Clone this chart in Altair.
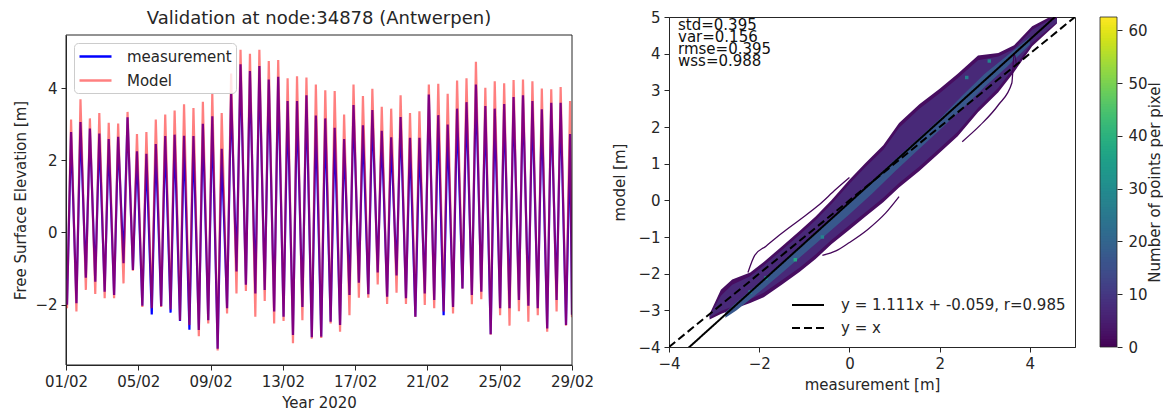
import altair as alt
import pandas as pd

# ---------------- left panel: tidal extremes ----------------
FIRST_TROUGH_DAY = 0.056
FIRST_PEAK_DAY = 0.28
TIDE_PERIOD_DAYS = 0.521

meas_high = [2.78, 3.06, 2.88, 2.74, 2.59, 2.65, 3.19, 2.25, 2.18, 2.45, 2.67, 2.71, 2.68, 2.67,
             3.01, 3.22, 2.32, 3.85, 4.66, 4.47, 4.61, 4.24, 4.31, 3.64, 3.64, 3.80, 3.24, 3.16,
             2.90, 2.59, 3.53, 2.97, 3.39, 2.82, 2.64, 3.20, 2.62, 2.62, 3.82, 3.25, 2.99, 3.43,
             3.61, 4.10, 3.50, 3.43, 3.56, 3.75, 3.80, 3.64, 3.41, 3.59, 3.59, 2.73]
model_high = [3.13, 3.69, 3.16, 3.31, 3.04, 3.02, 3.34, 2.73, 2.78, 3.13, 3.27, 3.38, 3.55, 3.45,
              3.62, 3.87, 3.31, 4.40, 5.06, 4.95, 5.06, 4.75, 4.78, 4.27, 4.33, 4.29, 4.10, 3.94,
              3.92, 3.27, 4.10, 3.78, 3.98, 3.48, 3.43, 3.80, 3.31, 3.36, 4.10, 4.12, 3.84, 4.21,
              4.27, 4.73, 4.01, 4.19, 4.13, 4.22, 4.24, 4.19, 3.99, 3.97, 4.03, 3.64]
meas_low = [-2.00, -1.96, -1.25, -1.36, -1.64, -1.73, -0.85, -1.04, -2.03, -2.27, -2.04, -2.22,
            -2.45, -2.69, -2.70, -2.43, -3.22, -2.10, -1.08, -1.45, -1.69, -1.59, -2.19, -2.33,
            -2.84, -2.06, -2.90, -2.89, -2.47, -2.56, -1.73, -1.39, -1.71, -1.11, -1.78, -1.19,
            -1.82, -2.33, -1.69, -1.87, -2.29, -2.06, -1.55, -1.73, -1.64, -2.82, -2.10, -2.10,
            -1.87, -2.03, -2.10, -2.66, -1.87, -2.56]
model_low = [-2.10, -2.19, -1.59, -1.70, -1.82, -1.82, -1.41, -1.06, -2.06, -2.10, -2.06, -2.13,
             -2.44, -2.56, -2.87, -2.52, -3.27, -2.24, -1.69, -1.62, -2.33, -1.90, -2.52, -2.45,
             -3.07, -2.43, -2.94, -2.92, -2.52, -2.75, -2.29, -1.81, -1.81, -1.44, -1.98, -1.67,
             -1.98, -2.34, -2.01, -2.10, -2.19, -2.24, -1.56, -1.99, -1.85, -2.83, -2.29, -2.58,
             -2.18, -2.47, -2.29, -2.75, -2.19, -2.58]
start_end_day = [0.0, 28.0]
meas_start_end = [-1.28, -2.28]
model_start_end = [-1.32, -2.35]

series_names = ["measurement", "Model"]
tick_days = [0, 4, 8, 12, 16, 20, 24, 28]
left_yticks = [-2, 0, 2, 4]
left_title = "Validation at node:34878 (Antwerpen)"

# ---------------- right panel: density band ----------------
band_x = [-3.1, -2.85, -2.6, -2.2, -1.9, -1.5, -1.1, -0.75, -0.4, 0.0, 0.35, 0.75, 1.1, 1.55,
          2.0, 2.4, 2.85, 3.3, 3.65, 4.05, 4.4, 4.6]
outer_hi = [-3.1, -2.44, -2.16, -1.97, -1.68, -1.26, -0.83, -0.44, 0.0, 0.56, 1.01, 1.5, 2.11,
            2.62, 3.04, 3.45, 3.95, 4.02, 4.23, 4.75, 4.97, 5.0]
outer_lo = [-3.25, -3.1, -2.98, -2.8, -2.64, -2.3, -1.95, -1.6, -1.2, -0.8, -0.45, -0.05, 0.35,
            0.8, 1.3, 1.75, 2.4, 2.95, 3.5, 4.2, 4.6, 4.82]
mid_hi = [-3.15, -2.6, -2.3, -2.07, -1.78, -1.36, -0.93, -0.54, -0.1, 0.45, 0.9, 1.38, 1.98,
          2.5, 2.92, 3.33, 3.82, 3.92, 4.13, 4.65, 4.9, 4.95]
mid_lo = [-3.2, -3.02, -2.9, -2.7, -2.52, -2.18, -1.83, -1.48, -1.08, -0.68, -0.33, 0.07, 0.47,
          0.92, 1.42, 1.87, 2.52, 3.07, 3.62, 4.3, 4.66, 4.86]
core_x = [-2.75, -2.5, -2.0, -1.5, -1.0, -0.5, 0.0, 0.5, 1.0, 1.5, 2.0, 2.5, 3.0, 3.5, 4.0]
core_hi = [-3.05, -2.78, -2.25, -1.7, -1.15, -0.6, -0.05, 0.52, 1.1, 1.65, 2.22, 2.85, 3.45, 3.95, 4.45]
core_lo = [-3.2, -3.0, -2.5, -1.98, -1.45, -0.92, -0.38, 0.18, 0.78, 1.35, 1.92, 2.5, 3.1, 3.65, 4.25]
outer_count, mid_count, core_count = 2, 7, 17

loop_a_x = [-2.25, -2.1, -1.85, -1.5, -1.1, -0.7, -0.3, 0.0]
loop_a_y = [-1.97, -1.5, -1.25, -0.9, -0.53, -0.15, 0.3, 0.62]
loop_b_x = [2.5, 2.9, 3.3, 3.6, 3.7, 3.65]
loop_b_y = [1.6, 2.05, 2.6, 3.2, 3.7, 4.0]
loop_c_x = [-0.6, -0.3, 0.0, 0.4, 0.8, 1.1]
loop_c_y = [-1.5, -1.38, -1.15, -0.8, -0.35, 0.1]
loop_count = 1

speck_x = [-1.2, -1.85, -2.2, -0.6, 2.6, 3.1]
speck_y = [-1.62, -2.12, -2.5, -1.0, 3.35, 3.8]
speck_count = [38, 36, 30, 28, 26, 28]

fit_slope, fit_intercept, fit_r = 1.111, -0.059, 0.985
line_x_ends = [-4, 5]
fit_label = "y = 1.111x + -0.059, r=0.985"
ident_label = "y = x"

stats_names = ["std", "var", "rmse", "wss"]
stats_values = ["0.395", "0.156", "0.395", "0.988"]

cbar_max = 62.5
cbar_step = 0.5
cbar_ticks = [0, 10, 20, 30, 40, 50, 60]
cbar_title = "Number of points per pixel"

FONT = "DejaVu Sans"
INK = "#262626"
LINE_SYMBOL = "M-2,0H2"

# ---------------- build tables ----------------
def tide_table(low, high, ends, name):
    rows = [(start_end_day[0], ends[0])]
    for k in range(len(low)):
        rows.append((FIRST_TROUGH_DAY + TIDE_PERIOD_DAYS * k, low[k]))
        if k < len(high):
            rows.append((FIRST_PEAK_DAY + TIDE_PERIOD_DAYS * k, high[k]))
    rows.append((start_end_day[1], ends[1]))
    df = pd.DataFrame(rows, columns=["day", "value"])
    df["series"] = name
    return df

meas_df = tide_table(meas_low, meas_high, meas_start_end, series_names[0])
model_df = tide_table(model_low, model_high, model_start_end, series_names[1])

LW, LH, LTOP = 506, 348, 18   # left view; plot frame starts LTOP px below the view top

LX = alt.X("day:Q", scale=alt.Scale(domain=[0, 28], nice=False, zero=False),
           axis=alt.Axis(values=tick_days, title="Year 2020",
                         labelExpr="timeFormat(datetime(2020, 1, 1 + datum.value), '%d/%m')"))
LY = alt.Y("value:Q", scale=alt.Scale(domain=[-3.67, 5.47], nice=False, zero=False,
                                      range=[LH, LTOP]),
           axis=alt.Axis(values=left_yticks, title="Free Surface Elevation [m]"))

meas_line = alt.Chart(meas_df).mark_line(strokeWidth=2.2, clip=True).encode(
    x=LX, y=LY,
    color=alt.Color("series:N",
                    scale=alt.Scale(domain=series_names, range=["#0000ff", "#ff8080"]),
                    legend=alt.Legend(title=None, orient="none", legendX=8, legendY=26,
                                      padding=4, strokeColor="#cccccc",
                                      fillColor="rgba(255,255,255,0.8)", cornerRadius=4,
                                      symbolType=LINE_SYMBOL, symbolSize=256, symbolOffset=8,
                                      symbolStrokeWidth=2.5, labelFontSize=15, labelFont=FONT,
                                      labelColor=INK, labelOffset=22, rowPadding=6)),
)
model_line = alt.Chart(model_df).mark_line(strokeWidth=2.2, color="#ff0000", opacity=0.5,
                                           clip=True).encode(x=LX, y=LY)

frame = alt.Chart(pd.DataFrame({"f": [0]})).mark_rect(
    fillOpacity=0, stroke=INK, strokeWidth=1).encode(
    x=alt.value(0), x2=alt.value(LW), y=alt.value(LTOP), y2=alt.value(LH))

title_mark = alt.Chart(pd.DataFrame({"t": [left_title]})).mark_text(
    align="center", baseline="middle", fontSize=18, font=FONT, color=INK).encode(
    text="t:N", x=alt.value(LW / 2), y=alt.value(2))

left = alt.layer(meas_line, model_line, frame, title_mark).properties(
    width=LW, height=LH, view=alt.ViewBackground(strokeOpacity=0))

# right panel
RW, RH = 406, 330
RX = alt.X("x:Q", scale=alt.Scale(domain=[-4, 5], nice=False, zero=False),
           axis=alt.Axis(values=[-4, -2, 0, 2, 4], title="measurement [m]"))
RY = alt.Y("y:Q", scale=alt.Scale(domain=[-4, 5], nice=False, zero=False),
           axis=alt.Axis(values=list(range(-4, 6)), title="model [m]", titlePadding=10))
CSCALE = alt.Scale(scheme="viridis", domain=[0, cbar_max])
COLOR = alt.Color("count:Q", scale=CSCALE, legend=None)


def band(xs, lo, hi, cnt):
    return pd.DataFrame({"x": xs, "y": lo, "y2": hi, "count": [cnt] * len(xs)})


areas = []
for xs, lo, hi, cnt in [(band_x, outer_lo, outer_hi, outer_count),
                        (band_x, mid_lo, mid_hi, mid_count),
                        (core_x, core_lo, core_hi, core_count)]:
    areas.append(alt.Chart(band(xs, lo, hi, cnt)).mark_area(clip=True)
                 .encode(x=RX, y=RY, y2="y2:Q", color=COLOR))

loops = []
for lx, ly in [(loop_a_x, loop_a_y), (loop_b_x, loop_b_y), (loop_c_x, loop_c_y)]:
    ldf = pd.DataFrame({"x": lx, "y": ly, "count": [loop_count] * len(lx)})
    loops.append(alt.Chart(ldf).mark_line(strokeWidth=1.3, clip=True, interpolate="monotone")
                 .encode(x=RX, y=RY, color=COLOR))

speck_df = pd.DataFrame({"x": speck_x, "y": speck_y, "count": speck_count})
specks = alt.Chart(speck_df).mark_square(size=12, opacity=1, clip=True).encode(
    x=RX, y=RY, color=COLOR)

reg_rows = []
for xv in line_x_ends:
    reg_rows.append((xv, fit_slope * xv + fit_intercept, fit_label))
for xv in line_x_ends:
    reg_rows.append((xv, xv, ident_label))
reg_df = pd.DataFrame(reg_rows, columns=["x", "y", "label"])
reg_lines = alt.Chart(reg_df).mark_line(color="black", strokeWidth=2, clip=True).encode(
    x=RX, y=RY,
    strokeDash=alt.StrokeDash("label:N",
                              scale=alt.Scale(domain=[fit_label, ident_label],
                                              range=[[1, 0], [8, 4]]),
                              legend=alt.Legend(title=None, orient="none", legendX=122,
                                                legendY=279, padding=0, labelFontSize=15,
                                                labelFont=FONT, labelColor=INK,
                                                labelLimit=400,
                                                symbolType=LINE_SYMBOL, symbolSize=256,
                                                symbolOffset=8, symbolStrokeWidth=2,
                                                symbolStrokeColor="black", labelOffset=24,
                                                rowPadding=6)),
)

stats_text = "\n".join(f"{n}={v}" for n, v in zip(stats_names, stats_values))
stats = alt.Chart(pd.DataFrame({"t": [stats_text]})).mark_text(
    align="left", baseline="top", fontSize=15, lineHeight=12, lineBreak="\n", font=FONT,
    color="#111111").encode(text="t:N", x=alt.value(9), y=alt.value(1))

plot_layers = alt.layer(*areas, *loops, specks, reg_lines, stats)

# colour bar: a column of small cells spanning the colour scale
n_cells = int(round(cbar_max / cbar_step))
cb_lo = [i * cbar_step for i in range(n_cells)]
cb_hi = [min(v + 1.6 * cbar_step, cbar_max) for v in cb_lo]
cb_val = [v + cbar_step / 2 for v in cb_lo]
cbar_df = pd.DataFrame({"lo": cb_lo, "hi": cb_hi, "count": cb_val})
CB_X0, CB_X1 = 431, 448
cbar_cells = alt.Chart(cbar_df).mark_rect().encode(
    x=alt.value(CB_X0), x2=alt.value(CB_X1),
    y=alt.Y("lo:Q", scale=alt.Scale(domain=[0, cbar_max], nice=False, zero=False),
            axis=alt.Axis(orient="right", offset=CB_X1 - RW, values=cbar_ticks,
                          title=cbar_title, titleAngle=270, titleBaseline="top",
                          labelPadding=6, titlePadding=0, tickSize=5, domain=False)),
    y2="hi:Q",
    color=COLOR,
)
cbar_frame = alt.Chart(pd.DataFrame({"f": [0]})).mark_rect(
    fillOpacity=0, stroke=INK, strokeWidth=0.8).encode(
    x=alt.value(CB_X0), x2=alt.value(CB_X1), y=alt.value(0), y2=alt.value(RH))

right = alt.layer(plot_layers, alt.layer(cbar_cells, cbar_frame)).resolve_scale(
    y="independent").properties(width=RW, height=RH)

chart = (
    alt.hconcat(left, right, spacing=18)
    .resolve_scale(color="independent", strokeDash="independent")
    .properties(padding={"left": 5, "top": 1, "right": 0, "bottom": 0})
    .configure_view(stroke=INK, strokeWidth=1)
    .configure_axis(labelFont=FONT, titleFont=FONT, labelFontSize=15, titleFontSize=15,
                    titleFontWeight="normal", labelColor=INK, titleColor=INK, tickColor=INK,
                    domainColor=INK, tickSize=5, grid=False, labelPadding=4, titlePadding=6,
                    labelFlush=False)
)

chart.save("out.html", embed_options={"renderer": "svg", "actions": False})
